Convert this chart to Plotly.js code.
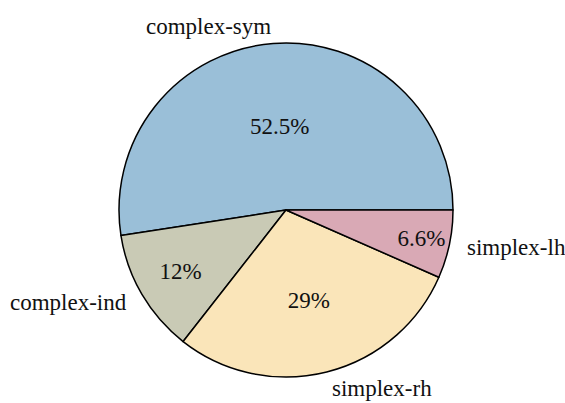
<!DOCTYPE html>
<html>
<head>
<meta charset="utf-8">
<script src="https://cdn.plot.ly/plotly-3.0.1.min.js"></script>
<style>html,body{margin:0;padding:0;background:#fff;}#chart{width:565px;height:403px;}</style>
</head>
<body>
<div id="chart"></div>
<script>
const categories = ["complex-sym", "complex-ind", "simplex-rh", "simplex-lh"];
const values = [52.5, 12, 29, 6.6];
const pctLabels = ["52.5%", "12%", "29%", "6.6%"];
const colors = ["#9abfd8", "#c9cab5", "#fae5b9", "#d9a9b5"];

const W = 565, H = 403;
const total = values.reduce((a, b) => a + b, 0);
// first slice starts at 3 o'clock going counterclockwise
const rot = 90 - 360 * values[0] / total;

const domain = {x: [0.2106, 0.8018], y: [0.0645, 0.8933]};
const fontFamily = "Liberation Serif, Times New Roman, serif";
const font = {family: fontFamily, size: 23, color: "#111"};

// label placement (outside, at 1.1 x radius, aligned away from center)
const cxPx = (domain.x[0] + domain.x[1]) / 2 * W;
const cyPx = (1 - (domain.y[0] + domain.y[1]) / 2) * H;
const R = Math.min((domain.x[1] - domain.x[0]) * W, (domain.y[1] - domain.y[0]) * H) / 2;
const labelDist = 1.1;
const annotations = [];
let acc = 0;
categories.forEach((c, i) => {
  const mid = (acc + values[i] / 2) / total * 2 * Math.PI;
  acc += values[i];
  const px = cxPx + labelDist * R * Math.cos(mid);
  const py = cyPx - labelDist * R * Math.sin(mid);
  annotations.push({
    text: c, xref: "paper", yref: "paper", x: px / W, y: 1 - py / H,
    xanchor: Math.cos(mid) < 0 ? "right" : "left", yanchor: "middle",
    showarrow: false, font: font, borderpad: 0
  });
});

const pieIn = {
  type: "pie", labels: categories, values: values, text: pctLabels,
  sort: false, direction: "counterclockwise", rotation: rot,
  marker: {colors: colors, line: {color: "#000", width: 1.5}},
  textinfo: "text", textposition: "inside", insidetextorientation: "horizontal",
  textfont: font, insidetextfont: font, domain: domain, hoverinfo: "none", showlegend: false
};
Plotly.newPlot("chart", [pieIn], {
  width: W, height: H, margin: {l: 0, r: 0, t: 0, b: 0},
  paper_bgcolor: "#fff", showlegend: false, annotations: annotations
}, {displayModeBar: false, staticPlot: true});
</script>
</body>
</html>
